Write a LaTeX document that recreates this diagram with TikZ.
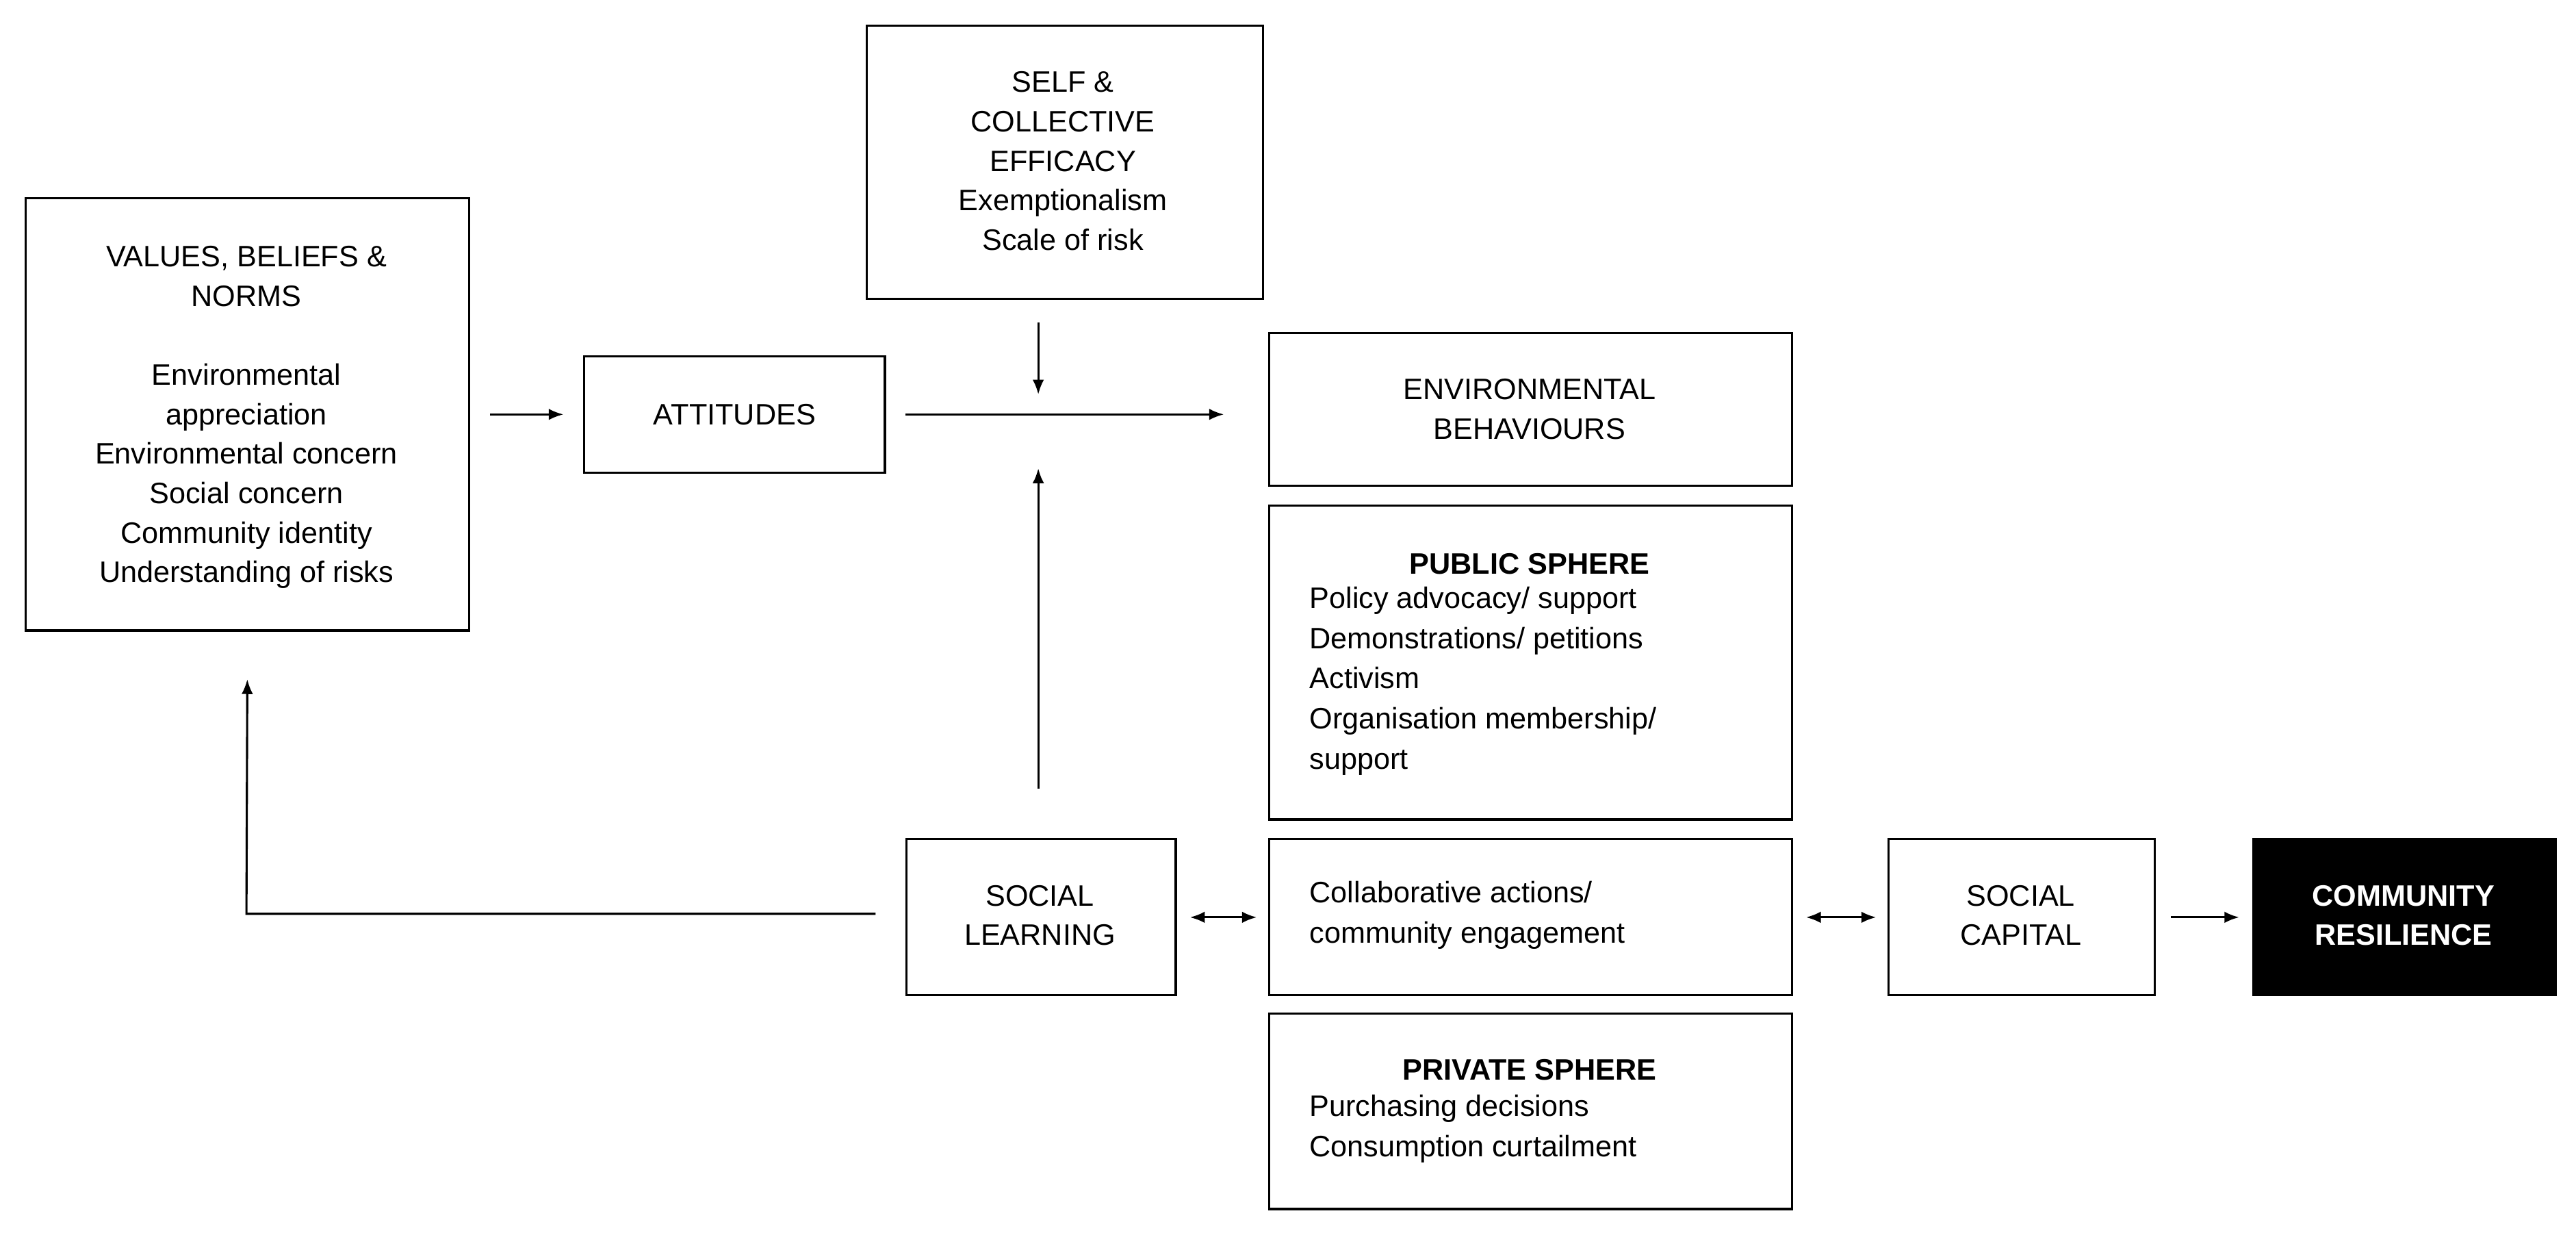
\documentclass[tikz,border=0pt]{standalone}
\usepackage{fontspec}
\setmainfont{Liberation Sans}
\usetikzlibrary{arrows.meta}
\begin{document}
\begin{tikzpicture}[x=1pt,y=-1pt,
  box/.style={draw,line width=1.3pt,inner sep=0pt,anchor=north west},
  txt/.style={font=\fontsize{18}{24}\selectfont,align=center,inner sep=0pt},
  ltxt/.style={font=\fontsize{18}{24.4}\selectfont,align=left,inner sep=0pt,anchor=north west},
  arr/.style={line width=1.3pt,-{Latex[length=9pt,width=7pt]}},
  barr/.style={line width=1.3pt,{Latex[length=9pt,width=7pt]}-{Latex[length=9pt,width=7pt]}}]
\useasboundingbox (0,0) rectangle (1568,750);
\fill[white] (0,0) rectangle (1568,750);
% boxes
\node[box,minimum width=270pt,minimum height=263pt] (val) at (15,120) {};
\node[box,minimum width=241pt,minimum height=166pt] (self) at (527,15) {};
\node[box,minimum width=183pt,minimum height=71pt] (att) at (355,216) {};
\node[box,minimum width=318pt,minimum height=93pt] (env) at (772,202) {};
\node[box,minimum width=318pt,minimum height=191pt] (pub) at (772,307) {};
\node[box,minimum width=318pt,minimum height=95pt] (col) at (772,510) {};
\node[box,minimum width=318pt,minimum height=119pt] (priv) at (772,616) {};
\node[box,minimum width=164pt,minimum height=95pt] (sl) at (551,510) {};
\node[box,minimum width=162pt,minimum height=95pt] (sc) at (1149,510) {};
\node[box,fill=black,minimum width=184pt,minimum height=95pt] (cr) at (1371,510) {};
% texts
\node[txt] (valt) at (150,254) {VALUES, BELIEFS \&\\NORMS\\[24pt]Environmental\\appreciation\\Environmental concern\\Social concern\\Community identity\\Understanding of risks};
\node[txt] (selft) at (647,98) {SELF \&\\COLLECTIVE\\EFFICACY\\Exemptionalism\\Scale of risk};
\node[txt] (attt) at (att.center) {ATTITUDES};
\node[txt] (envt) at (931,249) {ENVIRONMENTAL\\BEHAVIOURS};
\node[txt,font=\fontsize{18}{24}\selectfont\bfseries] (pubh) at (931,343) {PUBLIC SPHERE};
\node[ltxt] (pubt) at (797,357) {Policy advocacy/ support\\Demonstrations/ petitions\\Activism\\Organisation membership/\\support};
\node[ltxt] (colt) at (797,536) {Collaborative actions/\\community engagement};
\node[txt,font=\fontsize{18}{24}\selectfont\bfseries] (privh) at (931,651) {PRIVATE SPHERE};
\node[ltxt] (privt) at (797,666) {Purchasing decisions\\Consumption curtailment};
\node[txt] (slt) at (633,557) {SOCIAL\\LEARNING};
\node[txt] (sct) at (1230,557) {SOCIAL\\CAPITAL};
\node[txt,text=white,font=\fontsize{18}{24}\selectfont\bfseries] (crt) at (1463,557) {COMMUNITY\\RESILIENCE};
% connectors
\coordinate (j) at (632,251);
\draw[arr,shorten <=12pt,shorten >=12pt] (val.east |- att.west) -- (att.west);
\draw[arr,shorten <=12pt,shorten >=27pt] (att.east) -- (env.west |- att.east);
\draw[arr,shorten <=14pt,shorten >=11pt] (self.south -| j) -- (j);
\draw[arr,shorten <=30pt,shorten >=34pt] (sl.north -| j) -- (j);
\coordinate (c1) at (150,556);
\draw[arr,shorten <=18pt,shorten >=29pt] (sl.west |- c1) -- (c1) -- (val.south);
\draw[barr,shorten <=8pt,shorten >=7pt] (sl.east) -- (col.west);
\draw[barr,shorten <=8pt,shorten >=7pt] (col.east) -- (sc.west);
\draw[arr,shorten <=9pt,shorten >=8pt] (sc.east) -- (cr.west);
\end{tikzpicture}
\end{document}
